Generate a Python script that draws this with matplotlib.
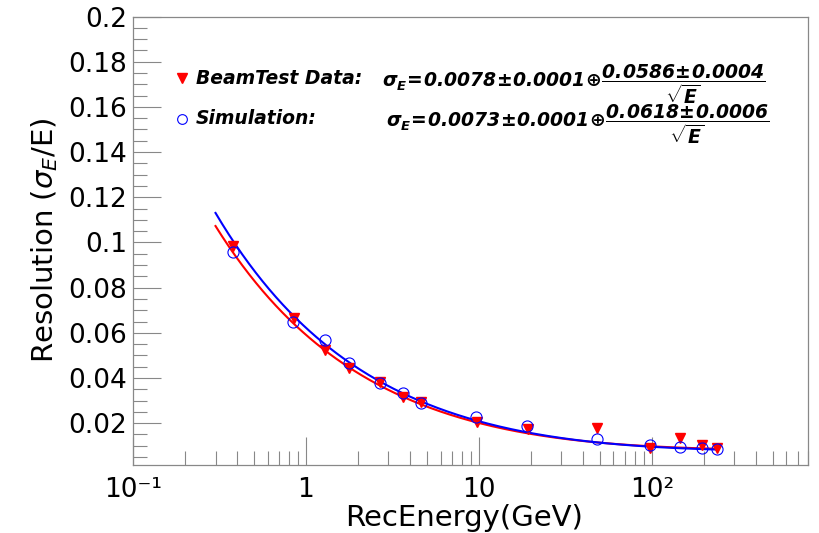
import numpy as np
import matplotlib
matplotlib.use("Agg")
from matplotlib import pyplot as plt
from matplotlib.lines import Line2D

plt.rcParams['font.family'] = ['DejaVu Sans']
plt.rcParams['mathtext.fontset'] = 'custom'
plt.rcParams['mathtext.rm'] = 'DejaVu Sans:bold:italic'
plt.rcParams['mathtext.it'] = 'DejaVu Sans:bold:italic'
plt.rcParams['mathtext.bf'] = 'DejaVu Sans:bold:italic'

# beam test data (red triangles)
data_energy = [0.38, 0.85, 1.29, 1.78, 2.68, 3.62, 4.62, 9.7, 19.2, 48, 97, 145, 194, 239]
data_res = [0.0985, 0.0665, 0.0524, 0.0443, 0.0384, 0.0318, 0.0296,
            0.0207, 0.0173, 0.0178, 0.0089, 0.0134, 0.0104, 0.0089]
# simulation (blue circles)
sim_energy = [0.38, 0.84, 1.29, 1.78, 2.68, 3.62, 4.62, 9.6, 19.0, 48, 97, 145, 194, 239]
sim_res = [0.0959, 0.0650, 0.0569, 0.0468, 0.0378, 0.0335, 0.0290,
           0.0227, 0.0188, 0.0129, 0.0104, 0.0094, 0.0089, 0.0085]
res_err = 0.0012

# fit parameters: sigma/E = a (+) b/sqrt(E)
data_fit = (0.0078, 0.0586)
sim_fit = (0.0073, 0.0618)
fit_range = (0.3, 240)

xticks = [0.1, 1, 10, 100]
xticklabels = ['10⁻¹', '1', '10', '10²']
yticks = [0.02, 0.04, 0.06, 0.08, 0.1, 0.12, 0.14, 0.16, 0.18, 0.2]
yticklabels = ['0.02', '0.04', '0.06', '0.08', '0.1', '0.12', '0.14', '0.16', '0.18', '0.2']


def resolution(e, a, b):
    return np.sqrt(a ** 2 + b ** 2 / e)


fig = plt.figure(figsize=(8.19, 5.33), dpi=100)
ax = fig.add_axes([0.1624, 0.1276, 0.8242, 0.8414])

e = np.logspace(np.log10(fit_range[0]), np.log10(fit_range[1]), 300)
ax.plot(e, resolution(e, *data_fit), color='#ff0000', lw=1.5, zorder=2)
ax.plot(e, resolution(e, *sim_fit), color='#0000ff', lw=1.5, zorder=2)

ax.errorbar(data_energy, data_res, yerr=res_err, fmt='none', ecolor='black', elinewidth=0.8, zorder=3)
ax.plot(data_energy, data_res, 'v', color='#ff0000', markersize=7.5, zorder=4)
ax.plot(sim_energy, sim_res, 'o', mfc='none', mec='#0000ff', mew=0.8, markersize=8, zorder=5)

ax.set_xscale('log')
ax.set_xlim(0.1, 800)
ax.set_ylim(0.0015, 0.2)

ax.set_xticks(xticks)
ax.set_xticklabels(xticklabels, fontsize=19)
ax.set_yticks(yticks)
ax.set_yticklabels(yticklabels, fontsize=19)
ax.set_yticks(np.arange(0.005, 0.2, 0.005), minor=True)
ax.xaxis.set_minor_formatter(plt.NullFormatter())

ax.tick_params(axis='both', which='major', direction='in', length=20, width=0.8, color='#888888')
ax.tick_params(axis='both', which='minor', direction='in', length=10, width=0.8, color='#888888')
ax.tick_params(axis='y', pad=4)
ax.tick_params(axis='x', pad=9)
for s in ax.spines.values():
    s.set_color('#888888')
    s.set_linewidth(0.9)

ax.set_xlabel('RecEnergy(GeV)', fontsize=21, va='center')
ax.xaxis.set_label_coords(0.49, -0.118)
ax.set_ylabel(r'Resolution ($\sigma_{E}$/E)', fontsize=21, labelpad=6, math_fontfamily='dejavusans')

# legend with fit results
fig.add_artist(Line2D([182 / 819], [1 - 78 / 533], marker='v', color='#ff0000', markersize=7,
                      linestyle='none', transform=fig.transFigure))
fig.add_artist(Line2D([182 / 819], [1 - 119 / 533], marker='o', mfc='none', mec='#0000ff', mew=0.8,
                      markersize=7, linestyle='none', transform=fig.transFigure))
fig.text(196 / 819, 1 - 78 / 533, 'BeamTest Data:', fontsize=13.5, fontweight='bold', fontstyle='italic',
         va='center', ha='left')
fig.text(196 / 819, 1 - 119 / 533, 'Simulation:', fontsize=13.5, fontweight='bold', fontstyle='italic',
         va='center', ha='left')
fig.text(382 / 819, 1 - 84 / 533,
         r'$\sigma_{E}\!=\!0.0078\!\pm\!0.0001\!\oplus\!\dfrac{0.0586\!\pm\!0.0004}{\sqrt{E}}$',
         fontsize=13.5, va='center', ha='left')
fig.text(386 / 819, 1 - 124 / 533,
         r'$\sigma_{E}\!=\!0.0073\!\pm\!0.0001\!\oplus\!\dfrac{0.0618\!\pm\!0.0006}{\sqrt{E}}$',
         fontsize=13.5, va='center', ha='left')

fig.savefig('out.png', dpi=100)
